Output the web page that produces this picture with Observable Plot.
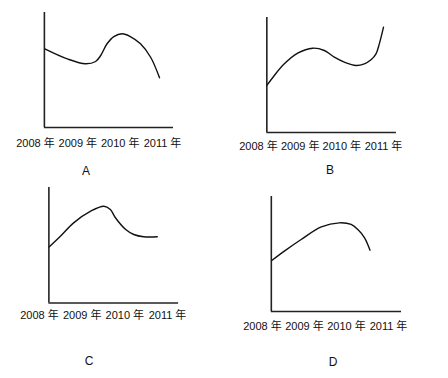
<!DOCTYPE html>
<html>
<head>
<meta charset="utf-8">
<script src="https://cdn.jsdelivr.net/npm/d3@7"></script>
<script src="https://cdn.jsdelivr.net/npm/@observablehq/plot@0.6"></script>
<style>
  html, body { margin: 0; padding: 0; background: #fff; }
  #wrap { position: relative; width: 448px; height: 378px; overflow: hidden; background: #fff; }
  #wrap svg { position: absolute; left: 0; top: 0; }
  .cap { position: absolute; font: 12px "Liberation Sans", "Noto Sans CJK SC", sans-serif; color: #111; transform: translate(-50%, -50%); }
</style>
</head>
<body>
<div id="wrap"></div>
<script>
// Tick labels
const years = [2008, 2009, 2010, 2011];
const unit = "年";
const panelNames = ["A", "B", "C", "D"];

// Panel A curve (year, relative value 0-100)
const aYears  = [2008.22, 2008.75, 2009.18, 2009.42, 2009.54, 2009.69, 2009.85, 2010.05, 2010.24, 2010.48, 2010.72, 2010.93];
const aValues = [68.4, 59.7, 55.4, 57.4, 62.6, 72.8, 79.1, 81.5, 79.1, 72.8, 61.1, 43.2];
const aFrame  = [2008.21, 2011.26];

// Panel B curve
const bYears  = [2008.20, 2008.38, 2008.62, 2008.94, 2009.30, 2009.58, 2009.82, 2010.06, 2010.34, 2010.54, 2010.70, 2010.82, 2010.90, 2011.00];
const bValues = [40.9, 49.6, 59.7, 69.0, 73.3, 71.3, 65.5, 61.2, 58.3, 59.7, 63.2, 68.4, 77.1, 91.6];
const bFrame  = [2008.20, 2011.31];

// Panel C curve
const cYears  = [2008.23, 2008.49, 2008.80, 2009.20, 2009.51, 2009.66, 2009.78, 2010.02, 2010.21, 2010.44, 2010.76];
const cValues = [48.7, 57.8, 69.4, 79.5, 83.8, 81.0, 73.8, 63.6, 59.3, 57.3, 57.3];
const cFrame  = [2008.22, 2011.26];

// Panel D curve
const dYears  = [2008.22, 2008.52, 2008.92, 2009.40, 2009.83, 2010.11, 2010.27, 2010.43, 2010.56];
const dValues = [44.3, 52.5, 62.6, 73.6, 77.1, 75.7, 71.3, 64.1, 53.3];
const dFrame  = [2008.21, 2011.31];

// Layout (pixel geometry only)
const W = 448, H = 378;
const layouts = [
  {xr: [35, 162],  yr: [127, 12],    pad: 12,  cap: [86, 171]},
  {xr: [258, 383], yr: [132, 17],    pad: 10,  cap: [330, 170]},
  {xr: [39, 167],  yr: [302.5, 187], pad: 8.5, cap: [89, 361]},
  {xr: [262, 388], yr: [311, 196],   pad: 11,  cap: [333, 362]}
];

const series = [
  {xs: aYears, ys: aValues, frame: aFrame},
  {xs: bYears, ys: bValues, frame: bFrame},
  {xs: cYears, ys: cValues, frame: cFrame},
  {xs: dYears, ys: dValues, frame: dFrame}
];

const wrap = document.getElementById("wrap");
series.forEach((s, i) => {
  const L = layouts[i];
  const pts = s.xs.map((x, j) => ({x, y: s.ys[j]}));
  const chart = Plot.plot({
    width: W,
    height: H,
    marginTop: L.yr[1],
    marginBottom: H - L.yr[0],
    marginLeft: L.xr[0],
    marginRight: W - L.xr[1],
    style: {background: "transparent", fontFamily: "'Liberation Sans', 'Noto Sans CJK SC', sans-serif", fontSize: "11px", color: "#111"},
    x: {domain: [2008, 2011], range: L.xr},
    y: {domain: [0, 100], range: L.yr, axis: null},
    marks: [
      Plot.axisX({ticks: years, tickFormat: d => `${d} ${unit}`, tickSize: 0, tickPadding: L.pad, label: null, fontSize: 11}),
      Plot.ruleX([s.frame[0]], {y1: 0, y2: 100, stroke: "#222", strokeWidth: 1.6}),
      Plot.ruleY([0], {x1: s.frame[0], x2: s.frame[1], stroke: "#222", strokeWidth: 1.6}),
      Plot.line(pts, {x: "x", y: "y", curve: "catmull-rom", stroke: "#111", strokeWidth: 1.4})
    ]
  });
  wrap.appendChild(chart);
  const cap = document.createElement("div");
  cap.className = "cap";
  cap.style.left = L.cap[0] + "px";
  cap.style.top = L.cap[1] + "px";
  cap.textContent = panelNames[i];
  wrap.appendChild(cap);
});
</script>
</body>
</html>
